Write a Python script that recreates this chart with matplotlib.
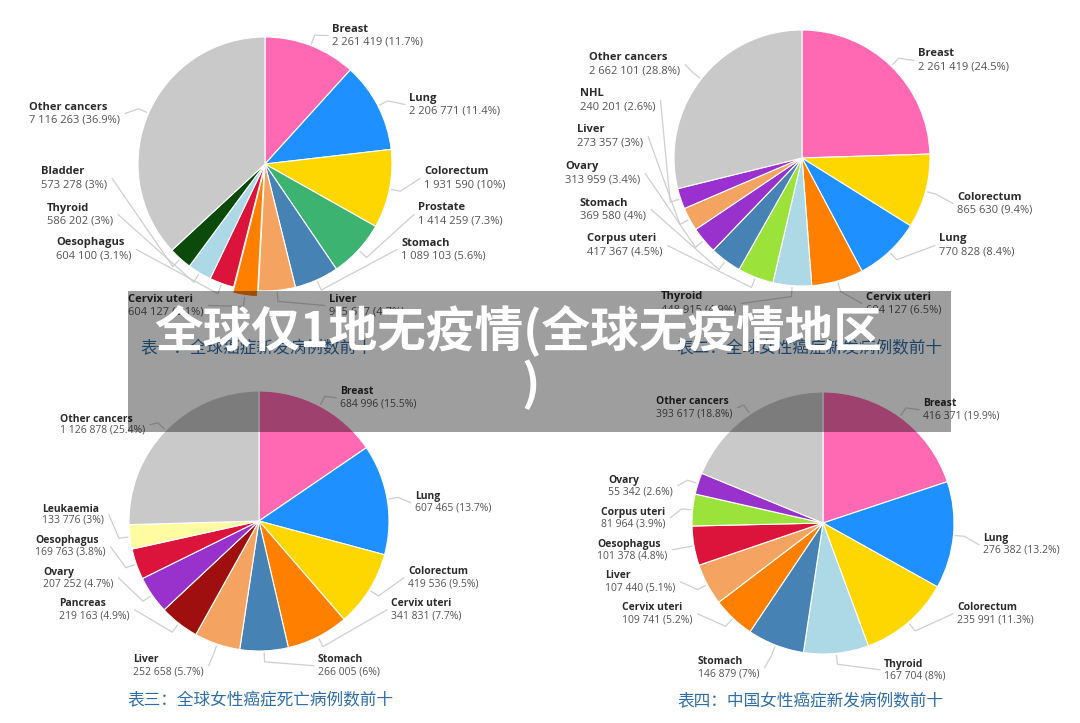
import matplotlib
matplotlib.use("Agg")
import matplotlib.pyplot as plt
from matplotlib.patches import Rectangle
import numpy as np

W, H = 1080, 723

# ---------------- data ----------------
c1_names = ["Breast", "Lung", "Colorectum", "Prostate", "Stomach", "Liver",
            "Cervix uteri", "Oesophagus", "Thyroid", "Bladder", "Other cancers"]
c1_values = [2261419, 2206771, 1931590, 1414259, 1089103, 905677,
             604127, 604100, 586202, 573278, 7116263]

c2_names = ["Breast", "Colorectum", "Lung", "Cervix uteri", "Thyroid", "Corpus uteri",
            "Stomach", "Ovary", "Liver", "NHL", "Other cancers"]
c2_values = [2261419, 865630, 770828, 604127, 448915, 417367,
             369580, 313959, 273357, 240201, 2662101]

c3_names = ["Breast", "Lung", "Colorectum", "Cervix uteri", "Stomach", "Liver",
            "Pancreas", "Ovary", "Oesophagus", "Leukaemia", "Other cancers"]
c3_values = [684996, 607465, 419536, 341831, 266005, 252658,
             219163, 207252, 169763, 133776, 1126878]

c4_names = ["Breast", "Lung", "Colorectum", "Thyroid", "Stomach", "Cervix uteri",
            "Liver", "Oesophagus", "Corpus uteri", "Ovary", "Other cancers"]
c4_values = [416371, 276382, 235991, 167704, 146879, 109741,
             107440, 101378, 81964, 55342, 393617]

titles = ["表一：全球癌症新发病例数前十", "表二：全球女性癌症新发病例数前十",
          "表三：全球女性癌症死亡病例数前十", "表四：中国女性癌症新发病例数前十"]

banner_line1 = "全球仅1地无疫情(全球无疫情地区"
banner_line2 = ")"

# ---------------- styles ----------------
PINK, BLUE, GOLD, GREEN = "#FF69B4", "#1E90FF", "#FFD700", "#3CB371"
STEEL, SANDY, ORANGE, CRIMSON = "#4682B4", "#F4A460", "#FF7F00", "#DC143C"
LBLUE, DGREEN, GRAY, PURPLE = "#ADD8E6", "#0B4A0B", "#C9C9C9", "#9932CC"
LGREEN, DRED, LYELLOW = "#9BE23A", "#A00F0F", "#FFFBA0"

c1_colors = [PINK, BLUE, GOLD, GREEN, STEEL, SANDY, ORANGE, CRIMSON, LBLUE, DGREEN, GRAY]
c2_colors = [PINK, GOLD, BLUE, ORANGE, LBLUE, LGREEN, STEEL, PURPLE, SANDY, "#9B30D0", GRAY]
c3_colors = [PINK, BLUE, GOLD, ORANGE, STEEL, SANDY, DRED, PURPLE, CRIMSON, LYELLOW, GRAY]
c4_colors = [PINK, BLUE, GOLD, LBLUE, STEEL, ORANGE, SANDY, CRIMSON, LGREEN, PURPLE, GRAY]

# layout (pixel coords, y down)
c1_layout = dict(center=(265, 164), r=127, gap=13, fs=8,
                 explode=[0, 0, 0, 0, 0, 0, 6, 0, 0, 0, 0],
                 pos=[(332, 29), (409, 98), (424, 172), (418, 208), (401, 243), (329, 299),
                      (128, 299), (56, 243), (47, 208), (41, 172), (29, 107)],
                 title_xy=(257, 349))
c2_layout = dict(center=(802, 158), r=128, gap=13, fs=8,
                 explode=None,
                 pos=[(918, 54), (957, 197), (939, 239), (866, 297), (661, 297), (587, 239),
                      (580, 203), (565, 167), (577, 130), (580, 94), (589, 58)],
                 title_xy=(809, 349))
c3_layout = dict(center=(259, 521), r=130, gap=11.5, fs=7.5,
                 explode=None,
                 pos=[(340, 392), (415, 497), (408, 572), (391, 604), (318, 660), (133, 660),
                      (59, 604), (43, 572), (35, 541), (42, 509), (60, 419)],
                 title_xy=(260, 701))
c4_layout = dict(center=(823, 523), r=131, gap=11.5, fs=7.5,
                 explode=None,
                 pos=[(923, 404), (983, 539), (957, 608), (884, 664), (698, 662), (622, 608),
                      (605, 576), (597, 544), (601, 512), (608, 480), (656, 402)],
                 title_xy=(810, 702))

LABEL_FONT = ["Open Sans", "DejaVu Sans"]
CJK_FONT = ["Noto Sans CJK SC", "DejaVu Sans"]


def Y(y):
    return H - y


def fmt_value(v, total):
    p = round(v / total * 100, 1)
    ps = f"{p:.1f}".rstrip("0").rstrip(".")
    return f"{v:,}".replace(",", " ") + f" ({ps}%)"


fig = plt.figure(figsize=(W / 100, H / 100), dpi=100)
fig.patch.set_facecolor("white")
ax = fig.add_axes([0, 0, 1, 1])

charts = [
    (c1_names, c1_values, c1_colors, titles[0], c1_layout),
    (c2_names, c2_values, c2_colors, titles[1], c2_layout),
    (c3_names, c3_values, c3_colors, titles[2], c3_layout),
    (c4_names, c4_values, c4_colors, titles[3], c4_layout),
]

pending = []
for names, values, colors, title, lay in charts:
    cx, cy = lay["center"]
    r = lay["r"]
    wedges, _ = ax.pie(values, colors=colors, startangle=90, counterclock=False,
                       center=(cx, Y(cy)), radius=r, explode=lay["explode"],
                       wedgeprops=dict(edgecolor="white", linewidth=0.8),
                       frame=False)
    total = sum(values)
    for w, name, v, (lx, ly) in zip(wedges, names, values, lay["pos"]):
        t1 = ax.text(lx, Y(ly), name, ha="left", va="center", fontsize=lay["fs"],
                     fontweight="bold", color="#2b2b2b", family=LABEL_FONT, zorder=5)
        t2 = ax.text(lx, Y(ly + lay["gap"]), fmt_value(v, total), ha="left", va="center",
                     fontsize=lay["fs"], color="#555555", family=LABEL_FONT, zorder=5)
        pending.append((w, r, lx, ly, lay["gap"], cx, t1, t2))
    tx, ty = lay["title_xy"]
    ax.text(tx, Y(ty), title, ha="center", va="center", fontsize=12,
            color="#2F6EA8", family=CJK_FONT, zorder=5)

ax.set_xlim(0, W)
ax.set_ylim(0, H)
ax.set_aspect("auto")
ax.axis("off")

# leader lines
fig.canvas.draw()
renderer = fig.canvas.get_renderer()
for w, r, lx, ly, gap, cx, t1, t2 in pending:
    ang = np.deg2rad((w.theta1 + w.theta2) / 2)
    wx, wy = w.center
    u = np.array([np.cos(ang), np.sin(ang)])
    p0 = np.array([wx, wy]) + (r + 2) * u
    p1 = np.array([wx, wy]) + (r + 11) * u
    ymid = Y(ly + gap / 2)
    if lx > cx:
        ex = lx - 4
    else:
        bb1 = t1.get_window_extent(renderer)
        bb2 = t2.get_window_extent(renderer)
        ex = max(bb1.x1, bb2.x1) + 5
    ax.plot([p0[0], p1[0], ex], [p0[1], p1[1], ymid], color="#cfcfcf", lw=0.9,
            zorder=1, solid_capstyle="round")

# overlay banner
ax.add_patch(Rectangle((128, Y(432)), 823, 141, facecolor="black", alpha=0.38,
                       edgecolor="none", zorder=10))
ax.text(518, Y(330), banner_line1, ha="center", va="center", fontsize=35,
        fontweight="bold", color="white", family=CJK_FONT, zorder=11)
ax.text(531, Y(385), banner_line2, ha="center", va="center", fontsize=35,
        fontweight="bold", color="white", family=CJK_FONT, zorder=11)

ax.set_xlim(0, W)
ax.set_ylim(0, H)
fig.savefig("out.png", dpi=100, facecolor="white")
